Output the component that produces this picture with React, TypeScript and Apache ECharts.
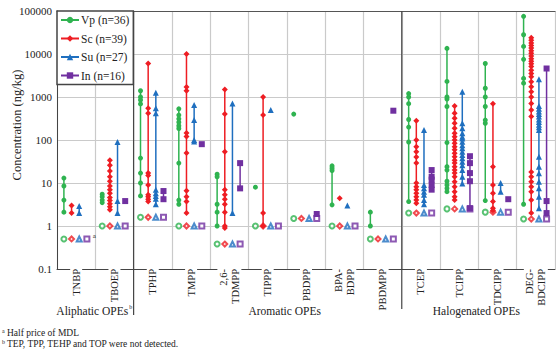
import React, { useEffect, useRef } from 'react';
import * as echarts from 'echarts';

const categories = ['TNBP', 'TBOEP', 'TPHP', 'TMPP', '2,6-\nTDMPP', 'TIPPP', 'PBDPP', 'BPA-\nBDPP', 'PBDMPP', 'TCEP', 'TCIPP', 'TDCIPP', 'DEG-\nBDCIPP'];
const seriesNames = ['Vp (n=36)', 'Sc (n=39)', 'Su (n=27)', 'In (n=16)'];
const seriesColors = ['#2fb350', '#ee1d23', '#1f6fbf', '#7030a0'];
const seriesSymbols = ['circle', 'diamond', 'triangle', 'rect'];
const hollowSymbols = ['emptyCircle', 'emptyDiamond', 'emptyTriangle', 'emptyRect'];
const seriesOffsets = [-0.32, -0.12, 0.08, 0.28];

const halfMDL = [0.5, 1, 1.6, 1, 0.38, 1, 1.5, 1, 0.5, 2, 2.5, 2.1, 1.45];

const vpData: number[][] = [
  [13, 8.5, 4, 2.1],
  [5.5, 4.8, 4, 3.5],
  [1400, 1000, 850, 690, 38, 17, 10, 5],
  [530, 380, 310, 260, 215, 185, 29, 4, 3.2],
  [16, 14, 3.2, 2.1, 1],
  [8],
  [400],
  [25, 22, 19.5, 3.1],
  [2.1, 1],
  [1200, 1000, 700, 300, 200, 90, 3.7],
  [13500, 2300, 1000, 900, 600, 87, 24, 20, 11, 9, 7.5, 6.3],
  [6000, 1600, 1000, 600, 290, 245, 3.9],
  [75000, 28000, 15000, 7500, 2700, 2100, 3.2],
];
const scData: number[][] = [
  [3, 2],
  [34, 26, 19, 14, 11, 8.5, 7, 5.8, 4.6, 3.9, 3.3, 2.8, 2.4],
  [6000, 550, 420, 17, 15, 9, 5.3, 4.8, 4.2, 3.7],
  [10000, 1700, 1400, 145, 120, 50, 6.6, 4.8, 3.7, 2],
  [1500, 400, 53, 7, 5.3, 4.2, 3.2, 2.1, 1, 0.9],
  [1000, 380, 2, 1],
  [],
  [4.4],
  [],
  [280, 100, 70, 53, 40, 29, 10, 8.2, 7, 5.8, 4.8, 4, 3.4],
  [620, 420, 320, 245, 187, 143, 119, 100, 84, 70, 59, 49, 41, 34, 29, 24, 20, 17, 14, 10.7, 8.2, 6.3, 4.8, 4],
  [700, 24, 9, 5.8, 3.7, 2.6, 2.3],
  [24000, 21000, 18000, 15800, 13800, 11900, 10400, 9000, 7800, 6800, 5900, 5100, 4200, 3500, 2950, 2270, 1740, 1330, 1000, 710, 500, 350, 18, 14, 10.7, 8.2, 6.3, 4, 2],
];
const suData: number[][] = [
  [2.9, 2],
  [90, 3.8, 2],
  [1250, 550, 420, 7, 5.8, 5, 4.3, 3.2],
  [650, 290, 100, 92],
  [710, 2],
  [500],
  [],
  [3],
  [],
  [170, 9, 7.5, 6.3, 5.3, 4, 3.2],
  [1330, 245, 187, 143, 119, 109, 91, 76, 64, 53, 45, 37.5, 31, 26, 20, 14, 9.8],
  [10, 6.3],
  [2600, 620, 530, 460, 400, 350, 300, 262, 227, 197, 171, 41, 24, 16.8, 10.7, 7.5, 4.8, 2.6],
];
const inData: number[][] = [
  [],
  [3.8],
  [6.5, 4.2],
  [80],
  [29, 7.5],
  [],
  [1.9],
  [],
  [480],
  [20, 14, 12, 9, 7],
  [42, 29, 17, 11, 2.6],
  [4.2],
  [4600, 3.8, 2],
];
const allData = [vpData, scData, suData, inData];

const yTickLabels = ['0.1', '1', '10', '100', '1000', '10000', '100000'];

const groupNames = ['Aliphatic OPEs', 'Aromatic OPEs', 'Halogenated OPEs'];
const groupSups = ['b', '', ''];
const groupStarts = [0, 2, 9, 13];
const groupLabelShift = [-3, 17, -2];

const footnoteA = 'Half price of MDL';
const footnoteB = 'TEP, TPP, TEHP and TOP were not detected.';

const FONT = 'Liberation Serif';

export default function App() {
  const ref = useRef<HTMLDivElement>(null);
  useEffect(() => {
    document.body.style.margin = '0';
    const el = ref.current!;
    const chart = echarts.init(el, null, { renderer: 'svg' });

    const lineSeries = allData.map((groupData, g) => {
      const data: any[] = [];
      groupData.forEach((vals, c) => {
        const x = c + 0.5 + seriesOffsets[g];
        const sorted = [...vals].sort((a, b) => b - a);
        sorted.forEach((v) => data.push([x, v]));
        data.push([x, '-']);
      });
      return {
        type: 'line',
        name: seriesNames[g],
        xAxisIndex: 0,
        yAxisIndex: 0,
        data,
        symbol: seriesSymbols[g],
        symbolSize: g === 0 ? 5 : 6,
        showSymbol: true,
        showAllSymbol: true,
        connectNulls: false,
        lineStyle: { color: seriesColors[g], width: 1.5 },
        itemStyle: { color: seriesColors[g] },
        z: 4,
      };
    });

    const hollowSeries = seriesNames.map((name, g) => ({
      type: 'scatter',
      name: name + ' MDL',
      xAxisIndex: 0,
      yAxisIndex: 0,
      data: halfMDL.map((v, c) => [c + 0.5 + seriesOffsets[g], v]),
      symbol: hollowSymbols[g],
      symbolSize: 5,
      itemStyle: { color: seriesColors[g], borderWidth: 0.9 },
      z: 3,
    }));

    chart.setOption({
      animation: false,
      backgroundColor: '#fff',
      grid: { left: 57, right: 1, top: 11, bottom: 83 },
      legend: {
        data: seriesNames,
        orient: 'vertical',
        left: 57,
        top: 11,
        padding: [3, 4, 3, 3],
        itemWidth: 18,
        itemHeight: 8,
        itemGap: 6.5,
        backgroundColor: '#fff',
        borderColor: '#444',
        borderWidth: 1.5,
        textStyle: { fontFamily: FONT, fontSize: 11.5, color: '#222', padding: [0, 0, 0, -3] },
        z: 10,
      },
      xAxis: [
        {
          type: 'value',
          position: 'top',
          min: 0,
          max: categories.length,
          interval: 1,
          axisLabel: { show: false },
          axisTick: { show: false },
          axisLine: { show: true, lineStyle: { color: '#555', width: 1 } },
          splitLine: { show: true, lineStyle: { color: '#cacaca', width: 1.2 } },
        },
        {
          type: 'category',
          position: 'bottom',
          data: categories,
          boundaryGap: true,
          axisTick: { show: false },
          axisLine: { show: true, lineStyle: { color: '#444', width: 1 } },
          splitLine: { show: false },
          axisLabel: {
            interval: 0,
            rotate: 90,
            margin: -3,
            padding: [0, 3, 0, 2],
            backgroundColor: '#fff',
            fontFamily: FONT,
            fontSize: 10.5,
            lineHeight: 12,
            color: '#222',
          },
        },
      ],
      yAxis: {
        type: 'log',
        logBase: 10,
        min: 0.1,
        max: 100000,
        axisLine: { show: true, lineStyle: { color: '#444', width: 1 } },
        axisTick: { show: false },
        splitLine: { show: true, lineStyle: { color: '#cacaca', width: 1.2 } },
        axisLabel: {
          fontFamily: FONT,
          fontSize: 11,
          color: '#222',
          margin: 5,
          formatter: (v: number) => {
            const e = Math.round(Math.log10(v));
            return yTickLabels[e + 1] ?? String(v);
          },
        },
      },
      series: [...hollowSeries, ...lineSeries],
    });

    const px = (x: number, y: number) => chart.convertToPixel({ xAxisIndex: 0, yAxisIndex: 0 }, [x, y]) as number[];
    const graphics: any[] = [];
    const topY = px(0, 100000)[1];
    [groupStarts[1], groupStarts[2]].forEach((gx, i) => {
      const x = px(gx, 1)[0];
      graphics.push({
        type: 'line',
        shape: { x1: x, y1: topY, x2: x, y2: i === 0 ? 315 : 309 },
        style: { stroke: '#444', lineWidth: 1.2 },
        z: 20,
      });
    });
    groupNames.forEach((name, i) => {
      const cx = px((groupStarts[i] + groupStarts[i + 1]) / 2, 1)[0] + groupLabelShift[i];
      graphics.push({
        type: 'text',
        x: cx,
        y: 311,
        style: { text: name, fontFamily: FONT, fontSize: 11.5, fill: '#222', align: 'center', verticalAlign: 'middle' },
        z: 20,
      });
      if (groupSups[i]) {
        graphics.push({
          type: 'text',
          x: cx + 37,
          y: 307,
          style: { text: groupSups[i], fontFamily: FONT, fontSize: 6, fill: '#222', align: 'left', verticalAlign: 'middle' },
          z: 20,
        });
      }
    });
    const aPos = px(0.93, halfMDL[0]);
    graphics.push({
      type: 'text',
      x: aPos[0],
      y: aPos[1] - 3,
      style: { text: 'a', fontFamily: FONT, fontSize: 7, fill: '#222', align: 'left', verticalAlign: 'middle' },
      z: 20,
    });
    graphics.push({
      type: 'text',
      x: 17,
      y: 125,
      rotation: Math.PI / 2,
      style: { text: 'Concentration (ng/kg)', fontFamily: FONT, fontSize: 12.5, fill: '#222', align: 'center', verticalAlign: 'middle' },
      z: 20,
    });
    graphics.push({
      type: 'text', x: 2, y: 331,
      style: { text: 'a', fontFamily: FONT, fontSize: 6, fill: '#222', verticalAlign: 'middle' }, z: 20,
    });
    graphics.push({
      type: 'text', x: 7, y: 333,
      style: { text: footnoteA, fontFamily: FONT, fontSize: 9.5, fill: '#222', verticalAlign: 'middle' }, z: 20,
    });
    graphics.push({
      type: 'text', x: 2, y: 342,
      style: { text: 'b', fontFamily: FONT, fontSize: 6, fill: '#222', verticalAlign: 'middle' }, z: 20,
    });
    graphics.push({
      type: 'text', x: 7, y: 344,
      style: { text: footnoteB, fontFamily: FONT, fontSize: 9.5, fill: '#222', verticalAlign: 'middle' }, z: 20,
    });
    chart.setOption({ graphic: graphics });

    return () => chart.dispose();
  }, []);
  return <div ref={ref} style={{ width: 556, height: 352 }} />;
}
